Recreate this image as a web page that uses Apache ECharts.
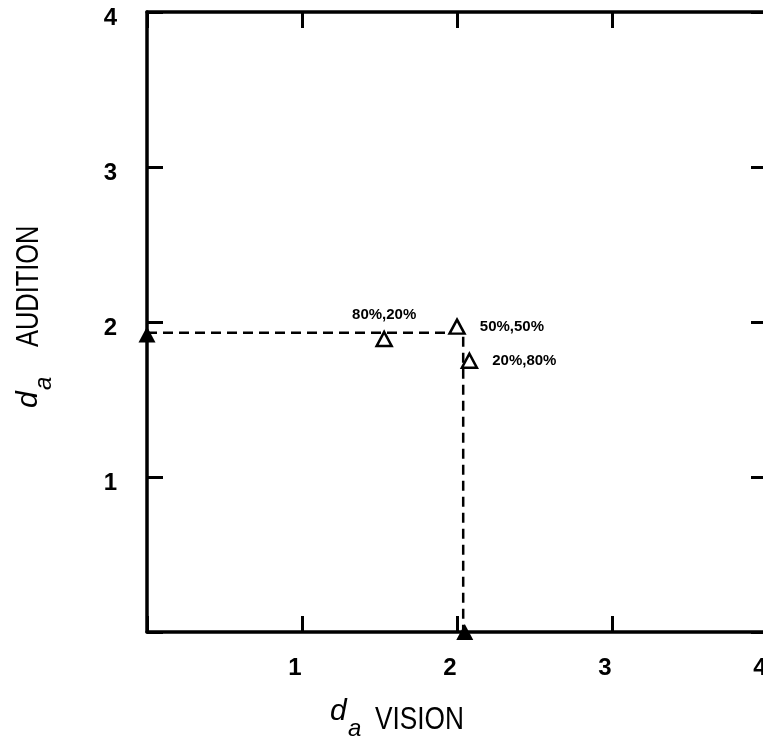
<!DOCTYPE html>
<html><head><meta charset="utf-8">
<script src="https://cdn.jsdelivr.net/npm/echarts@6/dist/echarts.min.js"></script>
<style>html,body{margin:0;padding:0;background:#fff}#c{width:763px;height:748px}</style>
</head><body><div id="c"></div>
<script>
const xTicks = [0, 1, 2, 3, 4];
const yTicks = [0, 1, 2, 3, 4];
const pathX = [0, 2.04, 2.04];
const pathY = [1.93, 1.93, 0];
const filledX = [0, 2.05];
const filledY = [1.92, 0];
const openLabels = ['80%,20%', '50%,50%', '20%,80%'];
const openX = [1.53, 2.0, 2.08];
const openY = [1.89, 1.97, 1.75];
const labelPos = ['top', 'right', 'right'];

const chart = echarts.init(document.getElementById('c'));
const tickFont = {fontFamily: 'Liberation Sans', fontWeight: 'bold', fontSize: 24, color: '#000'};
const fmt = v => (v === 0 ? '' : String(v));
const axLine = {onZero: false, lineStyle: {color: '#000', width: 3.5}};
const axTick = {inside: true, length: 16, lineStyle: {color: '#000', width: 3}};
chart.setOption({
  animation: false,
  grid: {left: 147, top: 12, right: -4, bottom: 116, outerBoundsMode: 'none', containLabel: false},
  xAxis: [
    {type: 'value', min: xTicks[0], max: xTicks[xTicks.length - 1], interval: 1, position: 'bottom',
     axisLine: axLine, axisTick: axTick,
     axisLabel: Object.assign({margin: 24, padding: [0, 14, 0, 0], formatter: fmt}, tickFont),
     splitLine: {show: false}},
    {type: 'value', min: xTicks[0], max: xTicks[xTicks.length - 1], interval: 1, position: 'top',
     axisLine: Object.assign({show: true}, axLine), axisTick: Object.assign({show: true}, axTick),
     axisLabel: {show: false}, splitLine: {show: false}}
  ],
  yAxis: [
    {type: 'value', min: yTicks[0], max: yTicks[yTicks.length - 1], interval: 1, position: 'left',
     axisLine: axLine, axisTick: axTick,
     axisLabel: Object.assign({margin: 30, verticalAlign: 'top', lineHeight: 12, formatter: fmt}, tickFont),
     splitLine: {show: false}},
    {type: 'value', min: yTicks[0], max: yTicks[yTicks.length - 1], interval: 1, position: 'right',
     axisLine: Object.assign({show: true}, axLine), axisTick: Object.assign({show: true}, axTick),
     axisLabel: {show: false}, splitLine: {show: false}}
  ],
  graphic: [
    {type: 'text', x: 330, y: 712, style: {text: 'd', fontFamily: 'Liberation Sans', fontStyle: 'italic', fontSize: 30, fill: '#000', verticalAlign: 'middle'}},
    {type: 'text', x: 348, y: 729, style: {text: 'a', fontFamily: 'Liberation Sans', fontStyle: 'italic', fontSize: 24, fill: '#000', verticalAlign: 'middle'}},
    {type: 'text', x: 375, y: 720, scaleX: 0.82, style: {text: 'VISION', fontFamily: 'Liberation Sans', fontSize: 32, fill: '#000', verticalAlign: 'middle'}},
    {type: 'group', x: 29, y: 408, rotation: Math.PI / 2, children: [
      {type: 'text', x: 0, y: 0, style: {text: 'd', fontFamily: 'Liberation Sans', fontStyle: 'italic', fontSize: 30, fill: '#000', verticalAlign: 'middle'}},
      {type: 'text', x: 18, y: 15, style: {text: 'a', fontFamily: 'Liberation Sans', fontStyle: 'italic', fontSize: 24, fill: '#000', verticalAlign: 'middle'}},
      {type: 'text', x: 61, y: 0, scaleX: 0.82, style: {text: 'AUDITION', fontFamily: 'Liberation Sans', fontSize: 31, fill: '#000', verticalAlign: 'middle'}}
    ]}
  ],
  series: [
    {type: 'line', data: pathX.map((x, i) => [x, pathY[i]]), symbol: 'none',
     lineStyle: {color: '#000', width: 2.5, type: [10, 6], opacity: 1}, clip: false, z: 2},
    {type: 'scatter', data: filledX.map((x, i) => [x, filledY[i]]), symbol: 'triangle', symbolSize: [17, 16],
     itemStyle: {color: '#000', opacity: 1}, clip: false, z: 4},
    {type: 'scatter', symbol: 'triangle', symbolSize: [15, 14], clip: false, z: 5,
     itemStyle: {color: '#fff', borderColor: '#000', borderWidth: 2.5, opacity: 1},
     data: openX.map((x, i) => ({value: [x, openY[i]],
       label: {show: true, position: labelPos[i], distance: i === 0 ? 8 : 14, formatter: openLabels[i],
         fontFamily: 'Liberation Sans', fontWeight: 'bold', fontSize: 15, color: '#000', opacity: 1}}))}
  ]
});
</script></body></html>
